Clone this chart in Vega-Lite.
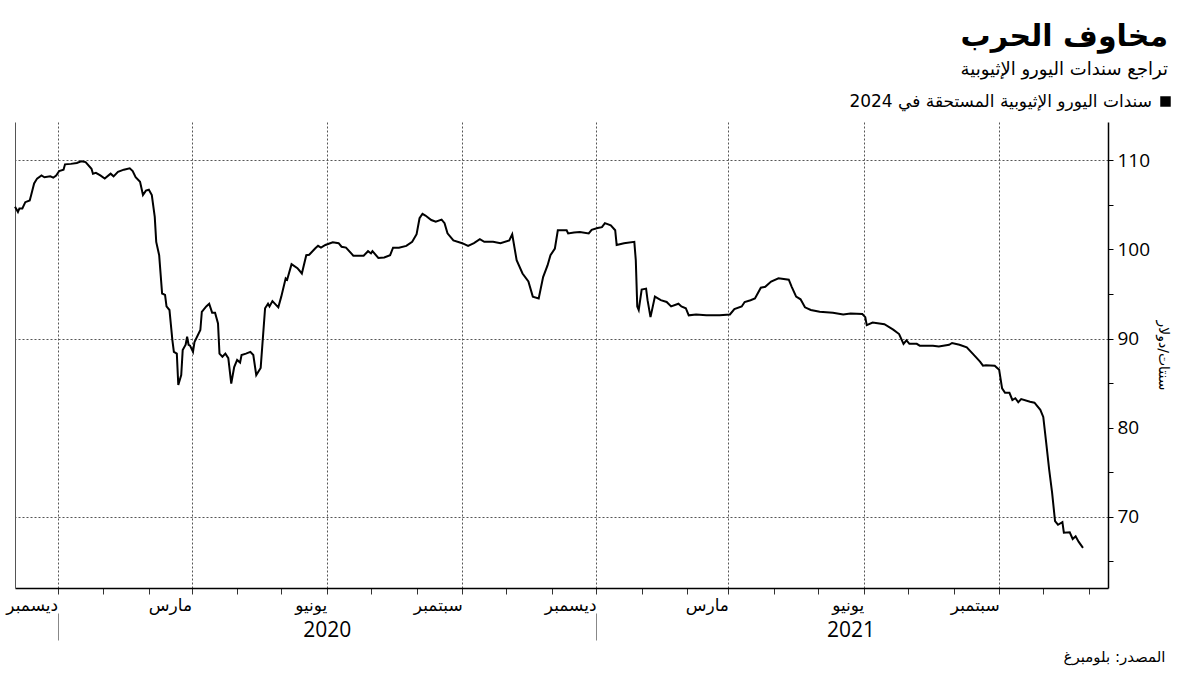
{
  "$schema": "https://vega.github.io/schema/vega-lite/v6.json",
  "autosize": {"type": "none"},
  "padding": {"left": 15, "top": 122, "right": 92, "bottom": 87},
  "width": 1093,
  "height": 466,
  "config": {"view": {"stroke": null}, "font": "DejaVu Sans"},
  "title": {
    "text": "مخاوف الحرب",
    "subtitle": "تراجع سندات اليورو الإثيوبية",
    "anchor": "end",
    "frame": "group",
    "dx": 60,
    "offset": 14,
    "fontSize": 30,
    "fontWeight": "bold",
    "color": "#000000",
    "subtitleFontSize": 18,
    "subtitleColor": "#000000",
    "subtitlePadding": 9,
    "font": "DejaVu Sans",
    "subtitleFont": "DejaVu Sans"
  },
  "data": {
    "values": [
      {"date": "2019-11-02", "price": 104.8},
      {"date": "2019-11-04", "price": 104.2},
      {"date": "2019-11-05", "price": 104.6},
      {"date": "2019-11-07", "price": 104.6},
      {"date": "2019-11-09", "price": 105.3},
      {"date": "2019-11-12", "price": 105.5},
      {"date": "2019-11-13", "price": 106.1},
      {"date": "2019-11-15", "price": 107.4},
      {"date": "2019-11-17", "price": 107.95},
      {"date": "2019-11-20", "price": 108.3},
      {"date": "2019-11-22", "price": 108.1},
      {"date": "2019-11-26", "price": 108.2},
      {"date": "2019-11-28", "price": 108.05},
      {"date": "2019-11-30", "price": 108.3},
      {"date": "2019-12-02", "price": 108.8},
      {"date": "2019-12-05", "price": 108.95},
      {"date": "2019-12-06", "price": 109.55},
      {"date": "2019-12-10", "price": 109.6},
      {"date": "2019-12-14", "price": 109.7},
      {"date": "2019-12-17", "price": 109.9},
      {"date": "2019-12-20", "price": 109.8},
      {"date": "2019-12-24", "price": 109.05},
      {"date": "2019-12-25", "price": 108.5},
      {"date": "2019-12-27", "price": 108.6},
      {"date": "2019-12-30", "price": 108.3},
      {"date": "2020-01-02", "price": 107.95},
      {"date": "2020-01-06", "price": 108.5},
      {"date": "2020-01-08", "price": 108.2},
      {"date": "2020-01-11", "price": 108.7},
      {"date": "2020-01-15", "price": 108.95},
      {"date": "2020-01-19", "price": 109.1},
      {"date": "2020-01-21", "price": 108.8},
      {"date": "2020-01-23", "price": 108.1},
      {"date": "2020-01-26", "price": 107.6},
      {"date": "2020-01-28", "price": 106.1},
      {"date": "2020-01-30", "price": 106.6},
      {"date": "2020-02-01", "price": 106.7},
      {"date": "2020-02-03", "price": 106.1},
      {"date": "2020-02-05", "price": 103.65},
      {"date": "2020-02-06", "price": 100.85},
      {"date": "2020-02-08", "price": 99.35},
      {"date": "2020-02-10", "price": 95.05},
      {"date": "2020-02-12", "price": 94.9},
      {"date": "2020-02-13", "price": 93.6},
      {"date": "2020-02-15", "price": 93.2},
      {"date": "2020-02-17", "price": 89.8},
      {"date": "2020-02-18", "price": 88.5},
      {"date": "2020-02-20", "price": 88.3},
      {"date": "2020-02-21", "price": 84.8},
      {"date": "2020-02-23", "price": 85.9},
      {"date": "2020-02-24", "price": 88.7},
      {"date": "2020-02-26", "price": 89.3},
      {"date": "2020-02-27", "price": 90.2},
      {"date": "2020-02-28", "price": 89.3},
      {"date": "2020-02-29", "price": 89.2},
      {"date": "2020-03-02", "price": 88.5},
      {"date": "2020-03-03", "price": 89.6},
      {"date": "2020-03-07", "price": 90.95},
      {"date": "2020-03-08", "price": 93.0},
      {"date": "2020-03-11", "price": 93.6},
      {"date": "2020-03-13", "price": 93.9},
      {"date": "2020-03-15", "price": 92.9},
      {"date": "2020-03-17", "price": 92.9},
      {"date": "2020-03-19", "price": 91.7},
      {"date": "2020-03-20", "price": 88.3},
      {"date": "2020-03-22", "price": 87.95},
      {"date": "2020-03-24", "price": 88.3},
      {"date": "2020-03-26", "price": 87.8},
      {"date": "2020-03-28", "price": 84.95},
      {"date": "2020-03-30", "price": 86.8},
      {"date": "2020-04-01", "price": 87.6},
      {"date": "2020-04-03", "price": 87.3},
      {"date": "2020-04-04", "price": 88.15},
      {"date": "2020-04-07", "price": 88.3},
      {"date": "2020-04-10", "price": 88.5},
      {"date": "2020-04-12", "price": 88.15},
      {"date": "2020-04-14", "price": 85.9},
      {"date": "2020-04-17", "price": 86.7},
      {"date": "2020-04-20", "price": 93.4},
      {"date": "2020-04-22", "price": 93.9},
      {"date": "2020-04-23", "price": 93.6},
      {"date": "2020-04-25", "price": 94.2},
      {"date": "2020-04-29", "price": 93.5},
      {"date": "2020-05-01", "price": 94.7},
      {"date": "2020-05-04", "price": 96.75},
      {"date": "2020-05-05", "price": 96.6},
      {"date": "2020-05-08", "price": 98.35},
      {"date": "2020-05-12", "price": 97.9},
      {"date": "2020-05-15", "price": 97.3},
      {"date": "2020-05-18", "price": 99.35},
      {"date": "2020-05-20", "price": 99.4},
      {"date": "2020-05-24", "price": 100.1},
      {"date": "2020-05-26", "price": 100.4},
      {"date": "2020-05-28", "price": 100.2},
      {"date": "2020-05-31", "price": 100.5},
      {"date": "2020-06-05", "price": 100.8},
      {"date": "2020-06-09", "price": 100.7},
      {"date": "2020-06-11", "price": 100.3},
      {"date": "2020-06-14", "price": 100.2},
      {"date": "2020-06-19", "price": 99.3},
      {"date": "2020-06-26", "price": 99.3},
      {"date": "2020-06-29", "price": 99.8},
      {"date": "2020-07-01", "price": 99.55},
      {"date": "2020-07-02", "price": 99.8},
      {"date": "2020-07-06", "price": 99.05},
      {"date": "2020-07-10", "price": 99.1},
      {"date": "2020-07-14", "price": 99.35},
      {"date": "2020-07-16", "price": 100.2},
      {"date": "2020-07-20", "price": 100.2},
      {"date": "2020-07-25", "price": 100.4},
      {"date": "2020-07-29", "price": 100.85},
      {"date": "2020-08-01", "price": 101.7},
      {"date": "2020-08-03", "price": 103.5},
      {"date": "2020-08-05", "price": 104.0},
      {"date": "2020-08-07", "price": 103.8},
      {"date": "2020-08-11", "price": 103.3},
      {"date": "2020-08-14", "price": 103.1},
      {"date": "2020-08-18", "price": 103.35},
      {"date": "2020-08-20", "price": 102.95},
      {"date": "2020-08-22", "price": 101.8},
      {"date": "2020-08-26", "price": 101.0},
      {"date": "2020-09-01", "price": 100.7},
      {"date": "2020-09-05", "price": 100.4},
      {"date": "2020-09-09", "price": 100.7},
      {"date": "2020-09-13", "price": 101.15},
      {"date": "2020-09-16", "price": 100.85},
      {"date": "2020-09-22", "price": 100.85},
      {"date": "2020-09-27", "price": 100.7},
      {"date": "2020-10-03", "price": 101.0},
      {"date": "2020-10-05", "price": 101.7},
      {"date": "2020-10-08", "price": 98.8},
      {"date": "2020-10-12", "price": 97.3},
      {"date": "2020-10-16", "price": 96.4},
      {"date": "2020-10-19", "price": 94.7},
      {"date": "2020-10-23", "price": 94.5},
      {"date": "2020-10-26", "price": 96.9},
      {"date": "2020-10-29", "price": 98.2},
      {"date": "2020-10-31", "price": 99.35},
      {"date": "2020-11-03", "price": 100.1},
      {"date": "2020-11-05", "price": 102.15},
      {"date": "2020-11-11", "price": 102.15},
      {"date": "2020-11-12", "price": 101.8},
      {"date": "2020-11-16", "price": 101.9},
      {"date": "2020-11-20", "price": 101.95},
      {"date": "2020-11-26", "price": 101.8},
      {"date": "2020-11-28", "price": 102.2},
      {"date": "2020-12-02", "price": 102.4},
      {"date": "2020-12-05", "price": 102.5},
      {"date": "2020-12-07", "price": 102.95},
      {"date": "2020-12-11", "price": 102.7},
      {"date": "2020-12-14", "price": 102.15},
      {"date": "2020-12-15", "price": 100.5},
      {"date": "2020-12-20", "price": 100.7},
      {"date": "2020-12-27", "price": 100.85},
      {"date": "2020-12-28", "price": 98.8},
      {"date": "2020-12-29", "price": 93.6},
      {"date": "2020-12-30", "price": 93.2},
      {"date": "2021-01-01", "price": 95.5},
      {"date": "2021-01-04", "price": 95.6},
      {"date": "2021-01-05", "price": 94.3},
      {"date": "2021-01-07", "price": 92.4},
      {"date": "2021-01-10", "price": 94.7},
      {"date": "2021-01-14", "price": 94.3},
      {"date": "2021-01-18", "price": 94.1},
      {"date": "2021-01-21", "price": 93.6},
      {"date": "2021-01-26", "price": 93.9},
      {"date": "2021-01-28", "price": 93.6},
      {"date": "2021-01-31", "price": 93.4},
      {"date": "2021-02-02", "price": 92.6},
      {"date": "2021-02-07", "price": 92.7},
      {"date": "2021-02-14", "price": 92.6},
      {"date": "2021-02-23", "price": 92.6},
      {"date": "2021-03-02", "price": 92.7},
      {"date": "2021-03-05", "price": 93.3},
      {"date": "2021-03-10", "price": 93.6},
      {"date": "2021-03-12", "price": 94.1},
      {"date": "2021-03-16", "price": 94.3},
      {"date": "2021-03-19", "price": 94.5},
      {"date": "2021-03-23", "price": 95.7},
      {"date": "2021-03-26", "price": 95.8},
      {"date": "2021-03-30", "price": 96.4},
      {"date": "2021-04-04", "price": 96.75},
      {"date": "2021-04-11", "price": 96.6},
      {"date": "2021-04-13", "price": 95.8},
      {"date": "2021-04-16", "price": 94.7},
      {"date": "2021-04-19", "price": 94.4},
      {"date": "2021-04-22", "price": 93.5},
      {"date": "2021-04-26", "price": 93.2},
      {"date": "2021-05-02", "price": 93.0},
      {"date": "2021-05-11", "price": 92.9},
      {"date": "2021-05-18", "price": 92.7},
      {"date": "2021-05-23", "price": 92.8},
      {"date": "2021-05-31", "price": 92.75},
      {"date": "2021-06-02", "price": 92.4},
      {"date": "2021-06-03", "price": 91.5},
      {"date": "2021-06-07", "price": 91.8},
      {"date": "2021-06-15", "price": 91.6},
      {"date": "2021-06-21", "price": 91.0},
      {"date": "2021-06-25", "price": 90.5},
      {"date": "2021-06-28", "price": 89.4},
      {"date": "2021-06-30", "price": 89.8},
      {"date": "2021-07-02", "price": 89.4},
      {"date": "2021-07-07", "price": 89.4},
      {"date": "2021-07-09", "price": 89.2},
      {"date": "2021-07-18", "price": 89.2},
      {"date": "2021-07-22", "price": 89.1},
      {"date": "2021-07-29", "price": 89.3},
      {"date": "2021-07-31", "price": 89.5},
      {"date": "2021-08-05", "price": 89.3},
      {"date": "2021-08-10", "price": 89.0},
      {"date": "2021-08-14", "price": 88.3},
      {"date": "2021-08-19", "price": 87.4},
      {"date": "2021-08-21", "price": 86.95},
      {"date": "2021-08-23", "price": 87.0},
      {"date": "2021-08-29", "price": 86.95},
      {"date": "2021-09-01", "price": 86.5},
      {"date": "2021-09-03", "price": 84.4},
      {"date": "2021-09-05", "price": 83.9},
      {"date": "2021-09-08", "price": 83.9},
      {"date": "2021-09-10", "price": 83.1},
      {"date": "2021-09-12", "price": 83.3},
      {"date": "2021-09-14", "price": 82.85},
      {"date": "2021-09-16", "price": 83.2},
      {"date": "2021-09-22", "price": 82.9},
      {"date": "2021-09-25", "price": 82.8},
      {"date": "2021-09-29", "price": 82.0},
      {"date": "2021-10-01", "price": 81.2},
      {"date": "2021-10-03", "price": 78.3},
      {"date": "2021-10-05", "price": 75.3},
      {"date": "2021-10-07", "price": 72.7},
      {"date": "2021-10-09", "price": 69.5},
      {"date": "2021-10-11", "price": 69.1},
      {"date": "2021-10-14", "price": 69.4},
      {"date": "2021-10-15", "price": 68.2},
      {"date": "2021-10-19", "price": 68.25},
      {"date": "2021-10-21", "price": 67.5},
      {"date": "2021-10-23", "price": 67.8},
      {"date": "2021-10-25", "price": 67.2},
      {"date": "2021-10-28", "price": 66.5}
    ]
  },
  "resolve": {"axis": {"x": "independent", "y": "independent"}},
  "layer": [
    {
      "mark": {"type": "line", "strokeWidth": 2, "interpolate": "linear"},
      "encoding": {
        "x": {
          "field": "date",
          "type": "temporal",
          "scale": {
            "type": "utc",
            "nice": false,
            "domain": [
              {"year": 2019, "month": 11, "date": 2, "utc": true},
              {"year": 2021, "month": 11, "date": 14, "utc": true}
            ]
          },
          "axis": {
            "orient": "bottom",
            "values": [
              {"year": 2019, "month": 12, "date": 1, "utc": true},
              {"year": 2020, "month": 1, "date": 1, "utc": true},
              {"year": 2020, "month": 2, "date": 1, "utc": true},
              {"year": 2020, "month": 3, "date": 1, "utc": true},
              {"year": 2020, "month": 4, "date": 1, "utc": true},
              {"year": 2020, "month": 5, "date": 1, "utc": true},
              {"year": 2020, "month": 6, "date": 1, "utc": true},
              {"year": 2020, "month": 7, "date": 1, "utc": true},
              {"year": 2020, "month": 8, "date": 1, "utc": true},
              {"year": 2020, "month": 9, "date": 1, "utc": true},
              {"year": 2020, "month": 10, "date": 1, "utc": true},
              {"year": 2020, "month": 11, "date": 1, "utc": true},
              {"year": 2020, "month": 12, "date": 1, "utc": true},
              {"year": 2021, "month": 1, "date": 1, "utc": true},
              {"year": 2021, "month": 2, "date": 1, "utc": true},
              {"year": 2021, "month": 3, "date": 1, "utc": true},
              {"year": 2021, "month": 4, "date": 1, "utc": true},
              {"year": 2021, "month": 5, "date": 1, "utc": true},
              {"year": 2021, "month": 6, "date": 1, "utc": true},
              {"year": 2021, "month": 7, "date": 1, "utc": true},
              {"year": 2021, "month": 8, "date": 1, "utc": true},
              {"year": 2021, "month": 9, "date": 1, "utc": true},
              {"year": 2021, "month": 10, "date": 1, "utc": true},
              {"year": 2021, "month": 11, "date": 1, "utc": true}
            ],
            "labelExpr": "utcmonth(datum.value) == 11 ? 'ديسمبر' : utcmonth(datum.value) == 2 ? 'مارس' : utcmonth(datum.value) == 5 ? 'يونيو' : utcmonth(datum.value) == 8 ? 'سبتمبر' : ''",
            "labelAlign": "right",
            "labelFontSize": 17,
            "labelColor": "#000000",
            "labelPadding": 3,
            "labelOverlap": false,
            "labelFlush": false,
            "labelBound": false,
            "tickSize": 6,
            "tickColor": "#333333",
            "domain": true,
            "domainColor": "#000000",
            "domainWidth": 1.5,
            "grid": true,
            "gridColor": "#555555",
            "gridDash": [2, 2],
            "gridOpacity": {"condition": {"test": "utcmonth(datum.value) % 3 == 2", "value": 1}, "value": 0},
            "title": "المصدر: بلومبرغ",
            "titleFontSize": 15,
            "titleFontWeight": "normal",
            "titleColor": "#000000",
            "titleAlign": "right",
            "titleAnchor": "end",
            "titleBaseline": "middle",
            "titleX": 1150,
            "titleY": 68
          }
        },
        "y": {
          "field": "price",
          "type": "quantitative",
          "scale": {"domain": [62, 114.3], "nice": false, "zero": false},
          "axis": {
            "orient": "right",
            "values": [65, 70, 75, 80, 85, 90, 95, 100, 105, 110],
            "labelExpr": "datum.value % 10 == 0 ? datum.value : ''",
            "labelFontSize": 19,
            "labelColor": "#000000",
            "labelFont": "Open Sans",
            "labelPadding": 4,
            "tickSize": 5,
            "tickColor": "#000000",
            "domainColor": "#000000",
            "domainWidth": 1.5,
            "grid": true,
            "gridColor": "#555555",
            "gridDash": [2, 2],
            "gridOpacity": {"condition": {"test": "datum.value % 20 == 10", "value": 1}, "value": 0},
            "title": "سنتات/دولار",
            "titleAngle": 90,
            "titleFontSize": 14,
            "titleFontWeight": "normal",
            "titleColor": "#000000",
            "titlePadding": 6
          }
        },
        "color": {
          "datum": "سندات اليورو الإثيوبية المستحقة في 2024",
          "scale": {"range": ["#000000"]},
          "legend": {
            "orient": "none",
            "legendX": 1142,
            "legendY": -29,
            "title": null,
            "padding": 0,
            "symbolType": "square",
            "symbolSize": 110,
            "symbolFillColor": "#000000",
            "symbolStrokeColor": "#000000",
            "symbolStrokeWidth": 0,
            "labelAlign": "right",
            "labelOffset": -22,
            "labelFontSize": 17,
            "labelLimit": 600,
            "labelColor": "#000000"
          }
        }
      }
    },
    {
      "mark": {"type": "point", "opacity": 0},
      "encoding": {
        "x": {
          "field": "date",
          "type": "temporal",
          "axis": {
            "orient": "bottom",
            "offset": 25,
            "values": [
              {"year": 2019, "month": 12, "date": 1, "utc": true},
              {"year": 2020, "month": 6, "date": 1, "utc": true},
              {"year": 2020, "month": 12, "date": 1, "utc": true},
              {"year": 2021, "month": 5, "date": 23, "utc": true}
            ],
            "labelExpr": "utcmonth(datum.value) == 11 ? '' : '' + utcyear(datum.value)",
            "labelAlign": "center",
            "labelFontSize": 21,
            "labelFont": "Open Sans",
            "labelColor": "#000000",
            "labelPadding": -21,
            "labelOverlap": false,
            "labelFlush": false,
            "labelBound": false,
            "tickSize": 27,
            "tickColor": "#888888",
            "tickOpacity": {"condition": {"test": "utcmonth(datum.value) == 11", "value": 1}, "value": 0},
            "domain": false,
            "grid": false,
            "title": null
          }
        },
        "y": {
          "field": "price",
          "type": "quantitative",
          "axis": {
            "orient": "left",
            "domain": true,
            "domainColor": "#555555",
            "domainWidth": 1,
            "ticks": false,
            "labels": false,
            "grid": false,
            "title": null
          }
        }
      }
    }
  ]
}
